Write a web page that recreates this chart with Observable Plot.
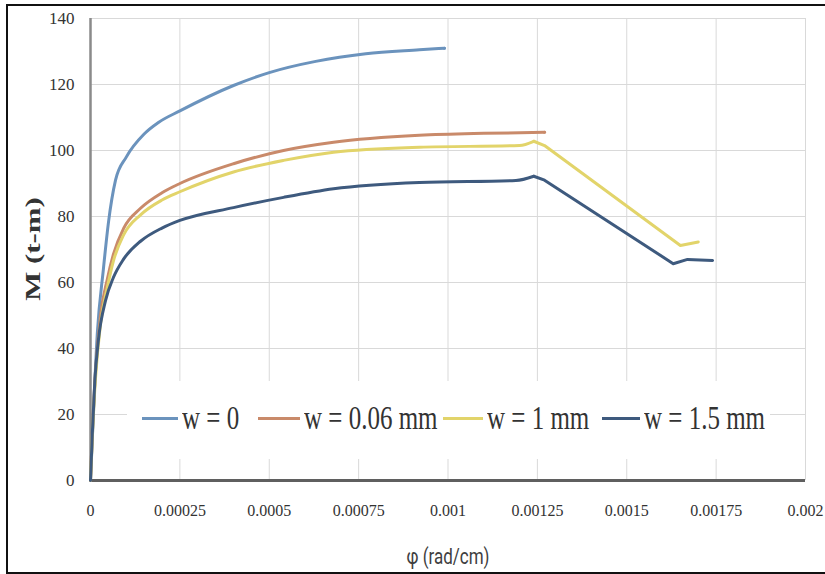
<!DOCTYPE html>
<html>
<head>
<meta charset="utf-8">
<script src="https://cdn.jsdelivr.net/npm/d3@7"></script>
<script src="https://cdn.jsdelivr.net/npm/@observablehq/plot@0.6"></script>
<style>
  html, body { margin: 0; padding: 0; background: #fff; }
  #wrap { position: relative; width: 825px; height: 574px; overflow: hidden; background: #fff; }
  #frame { position: absolute; left: 6px; top: 4px; width: 830px; height: 566px; border: 2px solid #111; pointer-events: none; }
  .ytitle { position: absolute; left: 33px; top: 249px; font-family: "Liberation Serif", serif; font-weight: bold; font-size: 22px; color: #333;
            transform: translate(-50%, -50%) rotate(-90deg) scaleX(1.4); white-space: nowrap; }
  .xtitle { position: absolute; left: 448px; top: 556px; font-family: Roboto, "Liberation Sans", sans-serif; font-size: 17px; color: #404040;
            transform: translate(-50%, -50%) scaleY(1.3); white-space: nowrap; }
  #legend { position: absolute; left: 127px; top: 381px; width: 643px; height: 78px; background: #fff; }
  .item { position: absolute; top: 37px; display: flex; align-items: center; transform: translateY(-50%); }
  .swatch { height: 3px; margin-right: 4px; }
  .lab { font-family: "Liberation Serif", serif; font-size: 25px; color: #333; transform: scaleY(1.35); white-space: nowrap; }
</style>
</head>
<body>
<div id="wrap"></div>
<script>
// ---- data ----
const seriesNames = ["w = 0", "w = 0.06 mm", "w = 1 mm", "w = 1.5 mm"];
const seriesColors = ["#6b93bd", "#c98a6a", "#e2d46a", "#3e5a7e"];

const phi_w0 = [0, 0.000006, 0.000019, 0.000036, 0.00005, 0.00007, 0.0001, 0.00015, 0.00019, 0.00025, 0.0004, 0.0005, 0.00063, 0.00077, 0.00092, 0.00099];
const M_w0   = [0, 15, 44.5, 64, 78, 91, 98, 105, 108.5, 112, 119.7, 123.6, 127, 129.3, 130.5, 131];

const phi_w006 = [0, 0.000005, 0.000014, 0.000028, 0.000047, 0.000064, 0.000093, 0.00014, 0.0002, 0.00025, 0.0004, 0.00054, 0.00068, 0.00092, 0.0011, 0.00127];
const M_w006   = [0, 14, 33, 50, 61, 68.5, 76.5, 82.5, 87.2, 90, 96, 100, 102.5, 104.6, 105.2, 105.5];

const phi_w1 = [0, 0.000005, 0.000014, 0.000028, 0.000047, 0.000064, 0.000093, 0.00014, 0.0002, 0.00025, 0.0004, 0.00054, 0.00068, 0.00092, 0.0012, 0.00124, 0.00127, 0.00165, 0.0017];
const M_w1   = [0, 13, 31, 47.5, 58.5, 66.5, 74.5, 80.5, 85, 87.5, 93.5, 97, 99.5, 101, 101.5, 102.8, 101.5, 71.2, 72.3];

const phi_w15 = [0, 0.000005, 0.000012, 0.000022, 0.000042, 0.000064, 0.000092, 0.00014, 0.0002, 0.00025, 0.0004, 0.00054, 0.00068, 0.00092, 0.00119, 0.00124, 0.00127, 0.00163, 0.00167, 0.00174];
const M_w15   = [0, 14, 30, 42.5, 54.5, 61.5, 67, 72.5, 76.5, 78.8, 82.7, 85.8, 88.4, 90.3, 90.9, 92.2, 91, 65.7, 67, 66.7];

const xTicks = [0, 0.00025, 0.0005, 0.00075, 0.001, 0.00125, 0.0015, 0.00175, 0.002];
const xTickLabels = ["0", "0.00025", "0.0005", "0.00075", "0.001", "0.00125", "0.0015", "0.00175", "0.002"];
const yTicks = [0, 20, 40, 60, 80, 100, 120, 140];

// ---- build tables: smooth rising branch up to the peak, straight softening branch after it ----
const phis = [phi_w0, phi_w006, phi_w1, phi_w15];
const Ms = [M_w0, M_w006, M_w1, M_w15];
const rise = [], fall = [];
seriesNames.forEach((s, k) => {
  const m = Ms[k];
  const peak = m.indexOf(Math.max(...m));
  phis[k].forEach((p, i) => {
    const r = {series: s, phi: p, M: m[i]};
    if (i <= peak) rise.push(r);
    if (i >= peak) fall.push(r);
  });
});

const chart = Plot.plot({
  width: 825,
  height: 574,
  marginLeft: 90,
  marginRight: 20,
  marginTop: 18,
  marginBottom: 94,
  style: {fontFamily: "'Liberation Serif', serif", fontSize: "16px", color: "#333", background: "transparent"},
  x: {domain: [0, 0.002]},
  y: {domain: [0, 140]},
  color: {domain: seriesNames, range: seriesColors},
  marks: [
    Plot.gridX(xTicks, {stroke: "#d9d9d9", strokeOpacity: 1, strokeWidth: 1}),
    Plot.gridY(yTicks, {stroke: "#d9d9d9", strokeOpacity: 1, strokeWidth: 1}),
    Plot.axisX({ticks: xTicks, tickFormat: d => xTickLabels[xTicks.indexOf(d)], tickSize: 0, tickPadding: 24, label: null, fontSize: 16, fill: "#333"}),
    Plot.axisY({ticks: yTicks, tickFormat: d => String(d), tickSize: 0, tickPadding: 16, label: null, fontSize: 17, fill: "#333"}),
    Plot.ruleX([0], {stroke: "#8a8a8a", strokeWidth: 2.5}),
    Plot.ruleY([0], {stroke: "#5f5f5f", strokeWidth: 3}),
    Plot.line(rise, {x: "phi", y: "M", z: "series", stroke: "series", strokeWidth: 3, curve: "monotone-x", strokeLinejoin: "round", strokeLinecap: "round"}),
    Plot.line(fall, {x: "phi", y: "M", z: "series", stroke: "series", strokeWidth: 3, curve: "linear", strokeLinejoin: "round", strokeLinecap: "round"})
  ]
});

const wrap = document.getElementById("wrap");
chart.style.position = "absolute";
chart.style.left = "0px";
chart.style.top = "0px";
wrap.appendChild(chart);

// legend (overlay inside the plot area, as in the reference)
const legendLefts = [142, 258, 443, 602];
const swatchWidths = [36, 42, 40, 38];
const legend = document.createElement("div");
legend.id = "legend";
seriesNames.forEach((s, i) => {
  const it = document.createElement("div");
  it.className = "item";
  it.style.left = (legendLefts[i] - 127) + "px";
  const sw = document.createElement("span");
  sw.className = "swatch";
  sw.style.width = swatchWidths[i] + "px";
  sw.style.background = seriesColors[i];
  const lb = document.createElement("span");
  lb.className = "lab";
  lb.textContent = s;
  it.appendChild(sw);
  it.appendChild(lb);
  legend.appendChild(it);
});
wrap.appendChild(legend);

const yt = document.createElement("div");
yt.className = "ytitle";
yt.textContent = "M (t-m)";
wrap.appendChild(yt);

const xt = document.createElement("div");
xt.className = "xtitle";
xt.textContent = "φ (rad/cm)";
wrap.appendChild(xt);

const frame = document.createElement("div");
frame.id = "frame";
wrap.appendChild(frame);
</script>
</body>
</html>
